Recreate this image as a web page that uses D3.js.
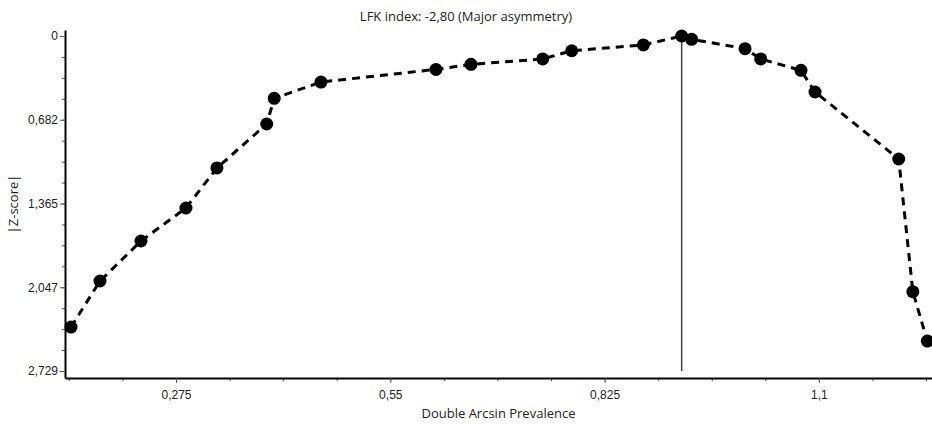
<!DOCTYPE html>
<html>
<head>
<meta charset="utf-8">
<script src="https://cdn.jsdelivr.net/npm/d3@7"></script>
<style>
  body { margin: 0; background: #fff; }
  svg { display: block; font-family: "Open Sans", "Liberation Sans", sans-serif; }
</style>
</head>
<body>
<svg id="chart" width="932" height="424"></svg>
<script>
/*
 LFK / Doi plot
*/

// data
const prevalence = [0.1403, 0.1775, 0.2301, 0.2878, 0.3276, 0.3914, 0.4011, 0.4611,
    0.6086, 0.6535, 0.7456, 0.7828, 0.8747, 0.9239, 0.9367, 1.0052, 1.0253,
    1.0770, 1.0950, 1.2024, 1.2205, 1.2391];
const zscore = [2.371, 1.996, 1.670, 1.401, 1.075, 0.717, 0.508, 0.375,
    0.272, 0.231, 0.187, 0.120, 0.073, 0.000, 0.027, 0.103, 0.187,
    0.280, 0.456, 1.002, 2.083, 2.485];
const xTicks = [0.275, 0.55, 0.825, 1.1];
const yTicks = [0, 0.68225, 1.3645, 2.04675, 2.729];
const yTickLabels = ["0", "0,682", "1,365", "2,047", "2,729"];
const peakX = 0.9239;

const title = "LFK index: -2,80 (Major asymmetry)";
const xTitle = "Double Arcsin Prevalence";
const yTitle = "|Z-score|";

const width = 932, height = 424;
const margin = { top: 30, right: 0, bottom: 46, left: 65 };

const svg = d3.select("#chart");

const xscale = d3.scaleLinear()
    .domain([0.1326, 1.2451])
    .range([margin.left, width - margin.right]);

const yscale = d3.scaleLinear()
    .domain([-0.0489, 2.786])
    .range([margin.top, height - margin.bottom]);

// minor ticks: 4 divisions per major step
const xMinor = d3.range(1, 19).map(i => i * 0.275 / 4).filter(v => v > 0.1326 && v < 1.2451);
const yMinor = d3.range(0, 17).map(i => i * 2.729 / 16);

const fmtX = d => String(+d.toFixed(3)).replace(".", ",");

// x axis
svg.append("g")
    .attr("transform", `translate(0,${height - margin.bottom})`)
    .call(d3.axisBottom(xscale).tickValues(xMinor).tickSize(3).tickFormat(""))
    .call(g => g.select(".domain").remove())
    .call(g => g.selectAll("line").attr("stroke", "#555"));

const xg = svg.append("g")
    .attr("transform", `translate(0,${height - margin.bottom})`)
    .call(d3.axisBottom(xscale).tickValues(xTicks).tickSize(5).tickSizeOuter(0).tickFormat(fmtX));
xg.select(".domain").attr("stroke-width", 2);
xg.selectAll("line").attr("stroke", "#555");
xg.selectAll("text").attr("font-size", 12).attr("fill", "#222").attr("y", 8).attr("dy", "1.1em");

// y axis
svg.append("g")
    .attr("transform", `translate(${margin.left},0)`)
    .call(d3.axisLeft(yscale).tickValues(yMinor).tickSize(3).tickFormat(""))
    .call(g => g.select(".domain").remove())
    .call(g => g.selectAll("line").attr("stroke", "#555"));

const yg = svg.append("g")
    .attr("transform", `translate(${margin.left},0)`)
    .call(d3.axisLeft(yscale).tickValues(yTicks).tickSize(5).tickSizeOuter(0)
        .tickFormat((d, i) => yTickLabels[i]));
yg.select(".domain").attr("stroke-width", 2);
yg.selectAll("line").attr("stroke", "#555");
yg.selectAll("text").attr("font-size", 12).attr("fill", "#222").attr("x", -7);

// vertical line at the peak
svg.append("line")
    .attr("x1", xscale(peakX)).attr("x2", xscale(peakX))
    .attr("y1", yscale(0)).attr("y2", yscale(2.729))
    .attr("stroke", "#444")
    .attr("stroke-width", 1.5);

// dashed line through points
const pts = prevalence.map((p, i) => [p, zscore[i]]);
svg.append("path")
    .datum(pts)
    .attr("fill", "none")
    .attr("stroke", "#000")
    .attr("stroke-width", 3)
    .attr("stroke-dasharray", "8,6")
    .attr("d", d3.line().x(d => xscale(d[0])).y(d => yscale(d[1])));

svg.append("g")
    .selectAll("circle")
    .data(pts)
    .join("circle")
    .attr("cx", d => xscale(d[0]))
    .attr("cy", d => yscale(d[1]))
    .attr("r", 6.5)
    .attr("fill", "#000");

// titles
svg.append("text")
    .attr("x", width / 2).attr("y", 21)
    .attr("text-anchor", "middle")
    .attr("font-size", 13)
    .attr("fill", "#222")
    .text(title);

svg.append("text")
    .attr("x", (margin.left + width - margin.right) / 2).attr("y", 418)
    .attr("text-anchor", "middle")
    .attr("font-size", 13)
    .attr("fill", "#222")
    .text(xTitle);

svg.append("text")
    .attr("transform", `translate(18,${(margin.top + height - margin.bottom) / 2}) rotate(-90)`)
    .attr("text-anchor", "middle")
    .attr("font-size", 13)
    .attr("fill", "#222")
    .text(yTitle);
</script>
</body>
</html>
